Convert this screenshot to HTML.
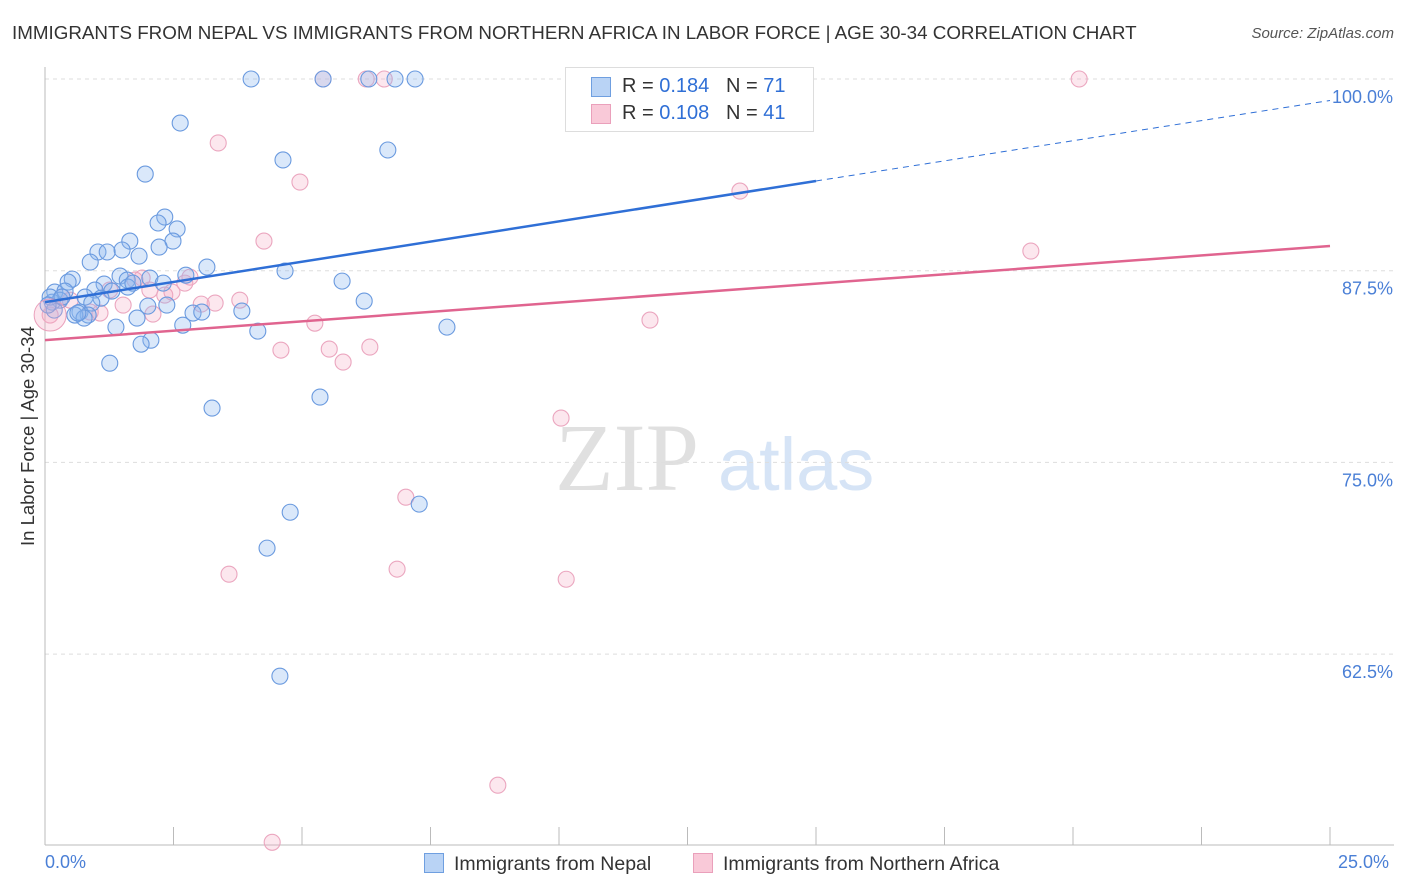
<!DOCTYPE html>
<html><head><meta charset="utf-8"><style>
body{margin:0;background:#fff;font-family:"Liberation Sans",sans-serif;}
#wrap{position:relative;width:1406px;height:892px;overflow:hidden;}
.t{position:absolute;white-space:nowrap;}
</style></head><body>
<div id="wrap">
<div class="t" style="left:12px;top:22px;font-size:18.8px;color:#333;">IMMIGRANTS FROM NEPAL VS IMMIGRANTS FROM NORTHERN AFRICA IN LABOR FORCE | AGE 30-34 CORRELATION CHART</div>
<div class="t" style="right:12px;top:25px;font-size:15px;color:#555;font-style:italic;">Source: ZipAtlas.com</div>
<svg id="svg" width="1406" height="892" style="position:absolute;left:0;top:0;"></svg>
</div>
<script>
const xTicks=[0,2.5,5,7.5,10,12.5,15,17.5,20,22.5,25];
const yTicks=[100,87.5,75,62.5];
const yTickLabels=["100.0%","87.5%","75.0%","62.5%"];
const nepalX=[4.01,5.41,6.30,6.81,7.20,2.63,4.63,6.67,1.95,2.33,2.20,2.57,2.49,2.22,1.65,1.03,1.21,1.50,1.83,0.88,3.15,2.74,4.67,5.78,0.53,0.45,1.46,1.60,2.04,2.30,1.15,0.97,0.19,0.39,1.30,1.61,1.71,0.78,1.09,0.29,0.14,0.91,2.00,2.37,6.21,0.18,0.68,0.84,0.58,0.76,2.88,3.05,3.83,1.79,1.38,2.68,4.14,7.82,2.06,1.87,1.26,3.25,5.35,7.28,4.77,4.32,4.57,0.10,0.06,0.33,0.64];
const nepalY=[100,100,100,100,100,97.13,94.72,95.37,93.80,91.00,90.61,90.22,89.43,89.04,89.43,88.72,88.72,88.85,88.45,88.06,87.74,87.21,87.48,86.82,86.95,86.76,87.15,86.89,87.02,86.69,86.63,86.24,86.11,86.17,86.17,86.43,86.69,85.78,85.71,85.58,85.45,85.39,85.19,85.26,85.52,84.93,84.80,84.61,84.61,84.41,84.74,84.80,84.87,84.41,83.82,83.95,83.56,83.82,82.97,82.71,81.47,78.54,79.26,72.28,71.75,69.41,61.06,85.78,85.26,85.78,84.74];
const nafX=[5.41,6.25,6.60,14.49,20.12,3.37,4.96,13.52,4.26,19.18,1.89,2.82,2.33,3.79,3.31,3.04,1.52,2.10,1.07,0.88,0.33,5.25,11.77,5.53,5.80,6.32,4.59,10.04,7.02,6.85,3.58,10.14,8.81,4.42,0.10,0.49,1.26,2.72,1.75,2.47,2.04];
const nafY=[100,100,100,100,100,95.83,93.28,92.69,89.43,88.78,87.02,87.08,85.91,85.58,85.39,85.32,85.26,84.67,84.74,84.80,85.78,84.08,84.28,82.39,81.54,82.52,82.32,77.89,72.73,68.04,67.71,67.38,53.95,50.23,84.61,85.58,86.24,86.69,86.89,86.11,86.24];
const nepalLine=[85.45,93.35,98.6];
const nafLine=[82.97,89.11];
const NS="http://www.w3.org/2000/svg";
const svg=document.getElementById('svg');
const X=v=>45+v/25*1285;
const Y=v=>79+(100-v)/12.5*191.7;
function el(t,a,p){const e=document.createElementNS(NS,t);for(const k in a)e.setAttribute(k,a[k]);(p||svg).appendChild(e);return e;}
let w=el('text',{x:555,y:490,'font-size':96,fill:'#e0e0e0','font-family':'Liberation Serif'});w.textContent='ZIP';


let w2=el('text',{x:718,y:490,'font-size':74,fill:'#d6e4f6','font-family':'Liberation Sans'});w2.textContent='atlas';


yTicks.forEach((v,i)=>{
 const g=el('line',{x1:45,x2:1394,y1:Y(v),y2:Y(v),stroke:'#ddd','stroke-dasharray':'4,4'});
 
 
 const t=el('text',{x:1393,y:Y(v)+24,'text-anchor':'end','font-size':18,fill:'#4a7fd6'});t.textContent=yTickLabels[i];
 
 
});
const ax=el('line',{x1:45,x2:45,y1:67,y2:845,stroke:'#bbb'});


const bx=el('line',{x1:45,x2:1394,y1:845,y2:845,stroke:'#bbb'});


xTicks.forEach(v=>{const t=el('line',{x1:X(v),x2:X(v),y1:827,y2:845,stroke:'#bbb'});
 
 });
function pts(xs,ys,fill,stroke,name){xs.forEach((x,i)=>{const c=el('circle',{cx:X(x),cy:Y(ys[i]),r:8,fill:fill,stroke:stroke,'stroke-width':1.1});
 
 });}
pts(nafX,nafY,'rgba(245,170,195,0.28)','#eba6bf','point-northern-africa');
pts(nepalX,nepalY,'rgba(140,182,238,0.32)','#6a9adf','point-nepal');
const bl=el('circle',{cx:X(0.1),cy:Y(84.61),r:16,fill:'rgba(245,170,195,0.3)',stroke:'#eaa0bb'});


const l1=el('line',{x1:X(0),y1:Y(nepalLine[0]),x2:X(15),y2:Y(nepalLine[1]),stroke:'#2f6fd6','stroke-width':2.5});


const l2=el('line',{x1:X(15),y1:Y(nepalLine[1]),x2:X(25),y2:Y(nepalLine[2]),stroke:'#2f6fd6','stroke-width':1,'stroke-dasharray':'6,5'});


const l3=el('line',{x1:X(0),y1:Y(nafLine[0]),x2:X(25),y2:Y(nafLine[1]),stroke:'#e0648f','stroke-width':2.5});


</script>
<div class="t" style="left:45px;top:852px;font-size:18px;color:#4a7fd6;">0.0%</div>
<div class="t" style="left:1338px;top:852px;font-size:18px;color:#4a7fd6;">25.0%</div>
<div class="t" style="left:-62px;top:446px;font-size:18.5px;color:#333;transform:rotate(-90deg);width:180px;text-align:center;line-height:20px;">In Labor Force | Age 30-34</div>
<div style="position:absolute;left:565px;top:67px;width:247px;height:63px;border:1px solid #ddd;background:#fff;font-size:20px;color:#333;">
 <div style="position:absolute;left:25px;top:9px;width:18px;height:18px;background:#b9d3f5;border:1px solid #6f9fe0;"></div>
 <div class="t" style="left:56px;top:7px;">R = <span style="color:#2f6fd6">0.184</span>&nbsp;&nbsp;&nbsp;N = <span style="color:#2f6fd6">71</span></div>
 <div style="position:absolute;left:25px;top:36px;width:18px;height:18px;background:#f9c9d8;border:1px solid #eaa0bb;"></div>
 <div class="t" style="left:56px;top:34px;">R = <span style="color:#2f6fd6">0.108</span>&nbsp;&nbsp;&nbsp;N = <span style="color:#2f6fd6">41</span></div>
</div>
<div style="position:absolute;left:424px;top:853px;font-size:19.5px;color:#333;">
 <span style="display:inline-block;width:18px;height:18px;background:#b9d3f5;border:1px solid #6f9fe0;vertical-align:-3px;margin-right:10px;"></span>Immigrants from Nepal</div>
<div style="position:absolute;left:693px;top:853px;font-size:19.5px;color:#333;">
 <span style="display:inline-block;width:18px;height:18px;background:#f9c9d8;border:1px solid #eaa0bb;vertical-align:-3px;margin-right:10px;"></span>Immigrants from Northern Africa</div>
</body></html>
